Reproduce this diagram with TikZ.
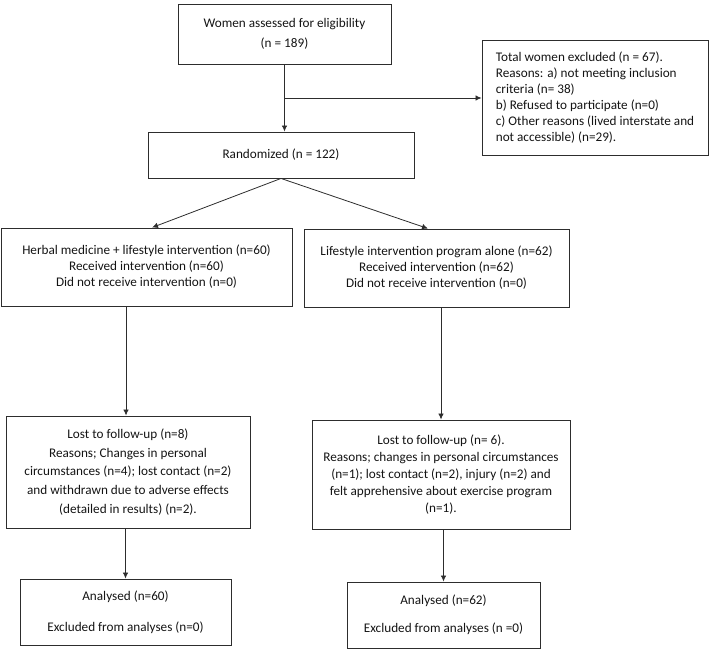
\documentclass[tikz,border=0pt]{standalone}
\usepackage{fontspec}
\setmainfont{Carlito}
\usetikzlibrary{arrows.meta}
\definecolor{ln}{RGB}{45,45,45}
\definecolor{tx}{RGB}{20,20,20}
\begin{document}
\begin{tikzpicture}[x=1pt,y=-1pt,
  box/.style={draw=ln,line width=0.9pt,inner sep=0pt,align=center,text=tx,
    font={\fontsize{13.2}{16}\selectfont}},
  arr/.style={draw=ln,line width=0.8pt,-{Latex[length=6pt,width=5.5pt]}},
  ln/.style={draw=ln,line width=0.8pt}]
\useasboundingbox (0,0) rectangle (709,650);
\node[box,minimum width=213pt,minimum height=60pt,font={\fontsize{13.2}{20}\selectfont}] (top) at (284.5,34)
  {Women assessed for eligibility\\(n = 189)};
\node[box,minimum width=226pt,minimum height=115pt,align=left] (excl) at (595,97.5)
  {Total women excluded (n = 67).\\Reasons: a) not meeting inclusion\\criteria (n= 38)\\b) Refused to participate (n=0)\\c) Other reasons (lived interstate and\\not accessible) (n=29).};
\node[box,minimum width=266pt,minimum height=46pt] (rand) at (281,155)
  {Randomized (n = 122)};
\node[box,minimum width=291pt,minimum height=78pt] (armL) at (146.5,267)
  {Herbal medicine + lifestyle intervention (n=60)\\Received intervention (n=60)\\Did not receive intervention (n=0)};
\node[box,minimum width=265pt,minimum height=78pt] (armR) at (436.5,268)
  {Lifestyle intervention program alone (n=62)\\Received intervention (n=62)\\Did not receive intervention (n=0)};
\node[box,minimum width=244pt,minimum height=112pt,font={\fontsize{13.2}{18.6}\selectfont}] (lostL) at (128,472)
  {Lost to follow-up (n=8)\\Reasons; Changes in personal\\circumstances (n=4); lost contact (n=2)\\and withdrawn due to adverse effects\\(detailed in results) (n=2).};
\node[box,minimum width=258pt,minimum height=109pt,font={\fontsize{13.2}{17}\selectfont}] (lostR) at (441,474.5)
  {Lost to follow-up (n= 6).\\Reasons; changes in personal circumstances\\(n=1); lost contact (n=2), injury (n=2) and\\felt apprehensive about exercise program\\(n=1).};
\node[box,minimum width=211pt,minimum height=66pt,font={\fontsize{13.2}{31}\selectfont}] (anaL) at (125.5,612)
  {Analysed (n=60)\\Excluded from analyses (n=0)};
\node[box,minimum width=193pt,minimum height=66pt,font={\fontsize{13.2}{28}\selectfont}] (anaR) at (443.5,615)
  {Analysed (n=62)\\Excluded from analyses (n =0)};
\coordinate (br) at (284,98);
\coordinate (cl) at (126,0);
\draw[arr] (top.south) -- (top.south |- rand.north);
\draw[arr] (br) -- (br -| excl.west);
\draw[arr] (rand.south) -- ([xshift=5.5pt]armL.north);
\draw[arr] (rand.south) -- ([xshift=-8.5pt]armR.north);
\draw[arr] (armL.south -| cl) -- (lostL.north -| cl);
\draw[arr] (lostL.south -| anaL.north) -- (anaL.north);
\draw[arr] (armR.south -| lostR.north) -- (lostR.north);
\draw[arr] (lostR.south -| anaR.north) -- (anaR.north);
\end{tikzpicture}
\end{document}
